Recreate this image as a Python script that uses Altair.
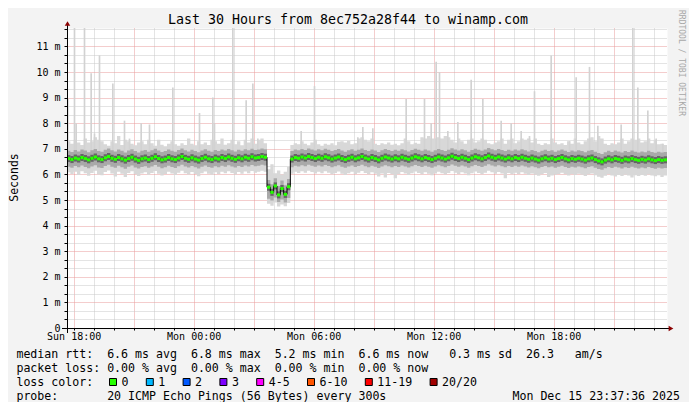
import altair as alt
import pandas as pd

FONT = "DejaVu Sans Mono"
MAJOR = "#e89a9a"
MINOR = "#c8c8c8"
NB = "\u00a0"

title_text = "Last 30 Hours from 8ec752a28f44 to winamp.com"
t_start = "2025-12-14 17:40:00"
t_end = "2025-12-15 23:40:00"
step_min = 10

# median rtt per 10-minute step (ms)
median_ms = [
    6.62, 6.58, 6.64, 6.60, 6.66, 6.62, 6.57, 6.63, 6.68, 6.61,
    6.58, 6.65, 6.70, 6.63, 6.59, 6.66, 6.61, 6.56, 6.62, 6.67,
    6.60, 6.55, 6.61, 6.64, 6.58, 6.63, 6.69, 6.62, 6.57, 6.60,
    6.66, 6.61, 6.58, 6.64, 6.70, 6.63, 6.59, 6.65, 6.60, 6.56,
    6.62, 6.67, 6.61, 6.58, 6.64, 6.60, 6.66, 6.62, 6.68, 6.63,
    6.59, 6.65, 6.61, 6.67, 6.63, 6.69, 6.64, 6.66, 6.70, 6.67,
    5.50, 5.30, 5.55, 5.20, 5.45, 5.22, 5.52, 6.60, 6.66, 6.63,
    6.68, 6.64, 6.70, 6.66, 6.62, 6.67, 6.63, 6.69, 6.65, 6.60,
    6.64, 6.68, 6.62, 6.58, 6.63, 6.67, 6.61, 6.65, 6.70, 6.64,
    6.60, 6.66, 6.62, 6.57, 6.63, 6.68, 6.64, 6.60, 6.65, 6.61,
    6.67, 6.63, 6.59, 6.64, 6.69, 6.65, 6.61, 6.66, 6.62, 6.58,
    6.63, 6.68, 6.64, 6.60, 6.65, 6.71, 6.66, 6.62, 6.67, 6.63,
    6.58, 6.64, 6.69, 6.65, 6.61, 6.66, 6.72, 6.67, 6.63, 6.68,
    6.64, 6.60, 6.65, 6.61, 6.66, 6.62, 6.67, 6.63, 6.59, 6.64,
    6.60, 6.56, 6.61, 6.65, 6.60, 6.63, 6.58, 6.62, 6.66, 6.61,
    6.57, 6.62, 6.59, 6.63, 6.60, 6.56, 6.61, 6.64, 6.58, 6.53,
    6.49, 6.56, 6.61, 6.57, 6.62, 6.59, 6.55, 6.60, 6.57, 6.62,
    6.58, 6.55, 6.59, 6.56, 6.61, 6.57, 6.54, 6.58, 6.55, 6.57,
]

# dense part of the smoke (lower / upper edge, ms)
band_low = [
    6.30, 6.26, 6.33, 6.28, 6.35, 6.29, 6.24, 6.31, 6.36, 6.27,
    6.25, 6.33, 6.38, 6.30, 6.26, 6.34, 6.28, 6.22, 6.30, 6.35,
    6.27, 6.23, 6.29, 6.32, 6.26, 6.31, 6.37, 6.30, 6.24, 6.28,
    6.34, 6.29, 6.25, 6.32, 6.38, 6.31, 6.27, 6.33, 6.28, 6.23,
    6.30, 6.35, 6.29, 6.26, 6.32, 6.28, 6.34, 6.30, 6.36, 6.31,
    6.27, 6.33, 6.29, 6.35, 6.31, 6.37, 6.32, 6.34, 6.38, 6.35,
    5.05, 4.98, 5.10, 4.92, 5.02, 4.90, 5.08, 6.28, 6.34, 6.31,
    6.36, 6.32, 6.38, 6.34, 6.30, 6.35, 6.31, 6.37, 6.33, 6.28,
    6.32, 6.36, 6.30, 6.26, 6.31, 6.35, 6.29, 6.33, 6.38, 6.32,
    6.28, 6.34, 6.30, 6.25, 6.31, 6.36, 6.32, 6.28, 6.33, 6.29,
    6.35, 6.31, 6.27, 6.32, 6.37, 6.33, 6.29, 6.34, 6.30, 6.26,
    6.31, 6.36, 6.32, 6.28, 6.33, 6.39, 6.34, 6.30, 6.35, 6.31,
    6.26, 6.32, 6.37, 6.33, 6.29, 6.34, 6.40, 6.35, 6.31, 6.36,
    6.32, 6.28, 6.33, 6.29, 6.34, 6.30, 6.35, 6.31, 6.27, 6.32,
    6.28, 6.24, 6.29, 6.33, 6.28, 6.31, 6.26, 6.30, 6.34, 6.29,
    6.25, 6.30, 6.27, 6.31, 6.28, 6.24, 6.29, 6.32, 6.26, 6.21,
    6.18, 6.24, 6.29, 6.25, 6.30, 6.27, 6.23, 6.28, 6.25, 6.30,
    6.26, 6.23, 6.27, 6.24, 6.29, 6.25, 6.22, 6.26, 6.23, 6.25,
]
band_high = [
    6.92, 6.88, 6.95, 6.90, 6.97, 6.93, 6.87, 6.94, 6.99, 6.91,
    6.89, 6.96, 7.01, 6.94, 6.90, 6.97, 6.92, 6.86, 6.93, 6.98,
    6.91, 6.86, 6.92, 6.95, 6.89, 6.94, 7.00, 6.93, 6.88, 6.91,
    6.97, 6.92, 6.89, 6.95, 7.01, 6.94, 6.90, 6.96, 6.91, 6.87,
    6.93, 6.98, 6.92, 6.89, 6.95, 6.91, 6.97, 6.93, 6.99, 6.94,
    6.90, 6.96, 6.92, 6.98, 6.94, 7.00, 6.95, 6.97, 7.01, 6.98,
    5.78, 5.62, 5.85, 5.55, 5.76, 5.58, 5.82, 6.91, 6.97, 6.94,
    6.99, 6.95, 7.01, 6.97, 6.93, 6.98, 6.94, 7.00, 6.96, 6.91,
    6.95, 6.99, 6.93, 6.89, 6.94, 6.98, 6.92, 6.96, 7.01, 6.95,
    6.91, 6.97, 6.93, 6.88, 6.94, 6.99, 6.95, 6.91, 6.96, 6.92,
    6.98, 6.94, 6.90, 6.95, 7.00, 6.96, 6.92, 6.97, 6.93, 6.89,
    6.94, 6.99, 6.95, 6.91, 6.96, 7.02, 6.97, 6.93, 6.98, 6.94,
    6.89, 6.95, 7.00, 6.96, 6.92, 6.97, 7.03, 6.98, 6.94, 6.99,
    6.95, 6.91, 6.96, 6.92, 6.97, 6.93, 6.98, 6.94, 6.90, 6.95,
    6.91, 6.87, 6.92, 6.96, 6.91, 6.94, 6.89, 6.93, 6.97, 6.92,
    6.88, 6.93, 6.90, 6.94, 6.91, 6.87, 6.92, 6.95, 6.89, 6.84,
    6.80, 6.87, 6.92, 6.88, 6.93, 6.90, 6.86, 6.91, 6.88, 6.93,
    6.89, 6.86, 6.90, 6.87, 6.92, 6.88, 6.85, 6.89, 6.86, 6.88,
]

# fastest / slowest ping per 10-minute step (ms), spikes listed separately
ping_min = [
    6.08, 6.02, 6.10, 5.98, 6.12, 6.05, 5.95, 6.06, 6.14, 6.00,
    5.97, 6.09, 6.15, 6.04, 5.92, 6.10, 6.03, 5.90, 6.06, 6.12,
    6.01, 5.94, 6.04, 6.08, 5.99, 6.06, 6.13, 6.03, 5.96, 6.02,
    6.10, 6.04, 5.98, 6.07, 6.14, 6.05, 6.00, 6.09, 6.02, 5.93,
    6.05, 6.11, 6.03, 5.99, 6.08, 6.02, 6.10, 6.05, 6.12, 6.06,
    6.00, 6.09, 6.03, 6.11, 6.05, 6.13, 6.07, 6.10, 6.14, 6.10,
    4.85, 4.78, 4.90, 4.75, 4.82, 4.76, 4.88, 6.03, 6.10, 6.06,
    6.12, 6.07, 6.14, 6.09, 6.04, 6.10, 6.05, 6.12, 6.07, 6.01,
    6.06, 6.11, 6.03, 5.98, 6.05, 6.10, 6.02, 6.07, 6.13, 6.06,
    6.01, 6.08, 6.03, 5.92, 6.04, 5.88, 6.06, 6.01, 5.85, 6.02,
    6.09, 6.04, 5.98, 6.05, 6.11, 6.06, 6.01, 6.08, 6.03, 5.97,
    6.04, 6.10, 6.05, 6.00, 6.06, 6.13, 6.07, 6.02, 6.08, 6.04,
    5.97, 6.05, 6.11, 6.06, 6.01, 6.07, 6.14, 6.08, 6.03, 6.09,
    6.04, 5.85, 6.06, 6.01, 6.07, 6.02, 6.08, 6.03, 5.98, 6.04,
    5.99, 5.95, 6.01, 6.06, 5.90, 5.96, 5.99, 6.02, 6.07, 6.01,
    5.96, 6.02, 5.98, 6.03, 5.99, 5.94, 6.00, 6.04, 5.97, 5.91,
    5.87, 5.95, 6.01, 5.96, 5.92, 5.98, 5.94, 5.99, 5.96, 5.88,
    5.97, 5.94, 5.98, 5.95, 6.00, 5.96, 5.93, 5.97, 5.90, 5.96,
]
ping_max = [
    7.30, 7.20, 7.35, 7.25, 7.15, 7.40, 7.25, 7.30, 7.45, 7.35,
    7.30, 7.18, 7.12, 7.30, 7.22, 7.50, 7.15, 7.35, 7.30, 7.20,
    7.14, 7.25, 7.30, 7.18, 7.35, 7.22, 7.12, 7.35, 7.16, 7.10,
    7.20, 7.30, 7.18, 7.12, 7.22, 7.15, 7.40, 7.20, 7.14, 7.30,
    7.18, 7.25, 7.15, 7.35, 7.30, 7.20, 7.40, 7.16, 7.22, 7.35,
    7.18, 7.30, 7.14, 7.35, 7.25, 7.40, 7.20, 7.35, 7.40, 7.22,
    6.20, 6.40, 6.05, 6.15, 6.00, 6.10, 6.30, 7.15, 7.22, 7.18,
    7.30, 7.20, 7.14, 7.25, 7.35, 7.18, 7.12, 7.20, 7.16, 7.22,
    7.14, 7.28, 7.30, 7.25, 7.32, 7.18, 7.22, 7.40, 7.45, 7.35,
    7.30, 7.40, 7.20, 7.15, 7.22, 7.18, 7.25, 7.16, 7.20, 7.14,
    7.22, 7.40, 7.30, 7.18, 7.24, 7.20, 7.45, 7.40, 7.50, 7.40,
    7.40, 7.45, 7.40, 7.50, 7.45, 7.35, 7.25, 7.40, 7.30, 7.20,
    7.35, 7.40, 7.25, 7.30, 7.40, 7.35, 7.22, 7.18, 7.25, 7.30,
    7.40, 7.20, 7.35, 7.40, 7.22, 7.30, 7.40, 7.35, 7.40, 7.25,
    7.40, 7.20, 7.15, 7.22, 7.18, 7.40, 7.25, 7.18, 7.22, 7.15,
    7.30, 7.20, 7.40, 7.25, 7.18, 7.30, 7.40, 7.45, 7.30, 7.50,
    7.40, 7.20, 7.15, 7.22, 7.18, 7.25, 7.40, 7.20, 7.30, 7.40,
    7.35, 7.40, 7.25, 7.30, 7.40, 7.22, 7.35, 7.18, 7.20, 7.15,
]

# isolated slow pings: 5-minute step index and slowest ping (ms)
spike_step5 = [0, 4, 5, 10, 14, 16, 19, 27, 34, 37, 44, 49, 63, 79, 87, 88,
               99, 107, 111, 114, 140, 148, 174, 177, 183, 203, 214, 218,
               221, 223, 228, 234, 242, 249, 260, 266, 272, 277, 280, 290,
               301, 305, 313, 318, 332, 339, 342, 348, 353, 357]
spike_ms = [8.95, 11.80, 8.00, 11.80, 9.95, 7.60, 10.65, 9.55, 8.10, 7.40,
            8.00, 7.95, 9.40, 8.40, 9.00, 8.00, 11.80, 8.90, 9.55, 7.40,
            7.70, 9.45, 7.45, 7.85, 7.80, 8.95, 8.95, 8.00, 10.40, 10.00,
            7.70, 8.05, 9.70, 8.95, 8.10, 8.00, 7.70, 7.50, 9.25, 10.65,
            7.30, 9.80, 10.20, 7.90, 7.95, 11.80, 9.40, 8.50, 7.40, 7.20]

legend_rows = [
    "median rtt:  6.6 ms avg  6.8 ms max  5.2 ms min  6.6 ms now   0.3 ms sd  26.3   am/s",
    "packet loss: 0.00 % avg  0.00 % max  0.00 % min  0.00 % now",
    "loss color:",
    "probe:       20 ICMP Echo Pings (56 Bytes) every 300s",
]
stamp_text = "Mon Dec 15 23:37:36 2025"
watermark_text = "RRDTOOL / TOBI OETIKER"
y_title = "Seconds"
loss_labels = ["0", "1", "2", "3", "4-5", "6-10", "11-19", "20/20"]
loss_colors = ["#26ff00", "#00b8ff", "#0059ff", "#7e00ff", "#ff00ff",
               "#ff5500", "#ff0000", "#a10000"]

n = len(median_ms)
assert all(len(a) == n for a in [band_low, band_high, ping_min, ping_max])
assert len(spike_step5) == len(spike_ms)

t0 = pd.Timestamp(t_start)
step = pd.Timedelta(minutes=step_min)
step5 = pd.Timedelta(minutes=5)
fmt = "%Y-%m-%dT%H:%M:%SZ"
starts = [t0 + i * step for i in range(n)]
df = pd.DataFrame({
    "t": [t.strftime(fmt) for t in starts],
    "t2": [(t + step).strftime(fmt) for t in starts],
    "med": median_ms, "lo": band_low, "hi": band_high,
    "mn": ping_min, "mx": ping_max,
})
last = df.iloc[[-1]].copy()
last["t"] = pd.Timestamp(t_end).strftime(fmt)
df_step = pd.concat([df, last], ignore_index=True)

df_spk = pd.DataFrame({
    "t": [(t0 + k * step5).strftime(fmt) for k in spike_step5],
    "t2": [(t0 + (k + 1) * step5).strftime(fmt) for k in spike_step5],
    "mx": spike_ms,
    "base": [median_ms[k // 2] for k in spike_step5],
})

start_ms = int(pd.Timestamp(t_start, tz="UTC").value // 10**6)
end_ms = int(pd.Timestamp(t_end, tz="UTC").value // 10**6)
hours = pd.date_range("2025-12-14 18:00", "2025-12-15 23:00", freq="h", tz="UTC")
hour_ms = [int(h.value // 10**6) for h in hours]

xaxis = alt.Axis(
    values=hour_ms, title="", domain=False,
    labelExpr="utchours(datum.value) % 6 == 0 ? utcFormat(datum.value, '%a %H:%M') : ''",
    labelFont=FONT, labelFontSize=10, labelColor="#000000", labelPadding=1,
    labelFlush=False, labelOverlap=False, labelBound=False,
    ticks=True, tickSize=2, tickColor="#000000",
    grid=True, gridDash=[1, 1], gridWidth=1,
    gridColor={"condition": {"test": "utchours(datum.value) % 3 == 0", "value": MAJOR}, "value": MINOR},
)
is_int = "abs(datum.value - round(datum.value)) < 0.01"
yaxis = alt.Axis(
    values=[k / 3 for k in range(36)], title="", domain=False,
    labelExpr=is_int + " ? (round(datum.value) == 0 ? '0" + NB + NB + "' : round(datum.value) + ' m') : ''",
    labelFont=FONT, labelFontSize=10, labelColor="#000000", labelPadding=4,
    labelOverlap=False, labelBound=False,
    ticks=True, tickSize=3, tickColor="#000000",
    grid=True, gridDash=[1, 1], gridWidth=1,
    gridColor={"condition": {"test": is_int, "value": MAJOR}, "value": MINOR},
)
xscale = alt.Scale(type="utc", domain=[start_ms, end_ms], nice=False)
yscale = alt.Scale(domain=[0, 11.72], nice=False, zero=False)

X = alt.X("t:T", scale=xscale, axis=xaxis)


def Y(field):
    return alt.Y(field + ":Q", scale=yscale, axis=yaxis)


light = alt.Chart(df_step).mark_area(interpolate="step-after", color="#d8d8d8", clip=True).encode(
    x=X, y=Y("mn"), y2=alt.Y2("mx"))
spikes = alt.Chart(df_spk).mark_rect(color="#d2d2d2", clip=True).encode(
    x=X, x2=alt.X2("t2"), y=Y("base"), y2=alt.Y2("mx"))
mid = alt.Chart(df_step).mark_area(interpolate="step-after", color="#a9a9a9", clip=True).encode(
    x=X, y=Y("lo"), y2=alt.Y2("hi"))
core = alt.Chart(df).mark_rule(strokeWidth=7, color="#656565").encode(
    x=X, x2=alt.X2("t2"), y=Y("med"))
black = alt.Chart(df_step).mark_line(interpolate="step-after", color="#000000", strokeWidth=1).encode(
    x=X, y=Y("med"))
green = alt.Chart(df).mark_rule(strokeWidth=3, color="#26ff00").encode(
    x=X, x2=alt.X2("t2"), y=Y("med"))

one = pd.DataFrame({"k": [0]})


def text_layer(s, x, y, size, align="left", angle=0, color="#000000"):
    return alt.Chart(one).mark_text(
        text=s.replace(" ", NB), font=FONT, fontSize=size, align=align, baseline="middle",
        angle=angle, color=color,
    ).encode(x=alt.value(x), y=alt.value(y))


decor = []
# axis lines + arrows
decor.append(alt.Chart(one).mark_rule(color="#000000", strokeWidth=1).encode(
    x=alt.value(-5), x2=alt.value(603), y=alt.value(300.5)))
decor.append(alt.Chart(one).mark_rule(color="#000000", strokeWidth=1).encode(
    x=alt.value(0.5), y=alt.value(-4), y2=alt.value(305)))
decor.append(alt.Chart(one).mark_point(shape="triangle-up", filled=True, color="#8b0000", size=30, opacity=1).encode(
    x=alt.value(0.5), y=alt.value(-4.5)))
decor.append(alt.Chart(one).mark_point(shape="triangle-right", filled=True, color="#8b0000", size=30, opacity=1).encode(
    x=alt.value(604), y=alt.value(300.5)))

# texts
decor.append(text_layer(title_text, 281, -8, 13.3, align="center"))
decor.append(text_layer(y_title, -52, 149.5, 11.5, align="center", angle=270))
decor.append(text_layer(watermark_text, 614, 35, 8, align="center", angle=90, color="#a8a8a8"))
row_y = [327, 341, 355, 369]
for s, yy in zip(legend_rows, row_y):
    decor.append(text_layer(s, -50.6, yy, 11.6))
decor.append(text_layer(stamp_text, 613, 369, 11.6, align="right"))

# loss colour swatches
bx = 42.0
for lab, col in zip(loss_labels, loss_colors):
    decor.append(alt.Chart(one).mark_rect(color=col, stroke="#000000", strokeWidth=1).encode(
        x=alt.value(bx + 0.5), x2=alt.value(bx + 7.5), y=alt.value(350.5), y2=alt.value(357.5)))
    decor.append(text_layer(lab, bx + 12.5, 355, 11.6))
    bx += 29.8 + 7.0 * len(lab)

chart = alt.layer(light, spikes, mid, core, black, green, *decor).properties(
    width=600, height=300,
    autosize=alt.AutoSizeParams(type="none"),
    padding={"left": 59, "top": 20, "right": 22, "bottom": 74},
    background="#f3f3f3",
).configure_view(fill="#ffffff", stroke="transparent")

chart.save("out.html", embed_options={"renderer": "svg", "actions": False})
